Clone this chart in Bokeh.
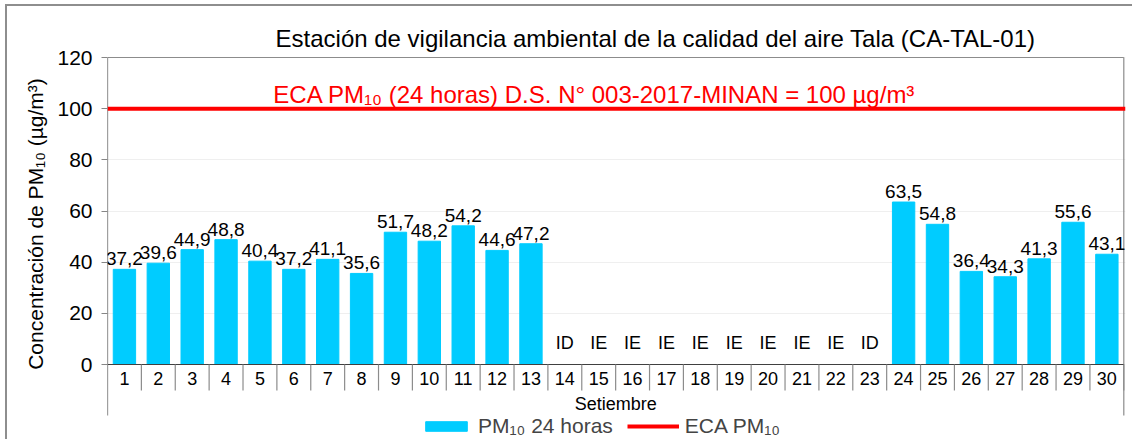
import math
import numpy as np
import pandas as pd
from bokeh.plotting import figure
from bokeh.models import (ColumnDataSource, FixedTicker, Legend, LegendItem, Range1d)
from bokeh.core.properties import value
from bokeh.embed import file_html
from bokeh.resources import INLINE

# ---------------- data ----------------
days = list(range(1, 31))
day_labels = [str(d) for d in days]
pm10 = [37.2, 39.6, 44.9, 48.8, 40.4, 37.2, 41.1, 35.6, 51.7, 48.2,
        54.2, 44.6, 47.2, None, None, None, None, None, None, None,
        None, None, None, 63.5, 54.8, 36.4, 34.3, 41.3, 55.6, 43.1]
status = ["", "", "", "", "", "", "", "", "", "",
          "", "", "", "ID", "IE", "IE", "IE", "IE", "IE", "IE",
          "IE", "IE", "ID", "", "", "", "", "", "", ""]
eca_limit = 100
y_ticks = [0, 20, 40, 60, 80, 100, 120]

title_text = "Estación de vigilancia ambiental de la calidad del aire Tala (CA-TAL-01)"
eca_text = "ECA PM\u2081\u2080 (24 horas) D.S. N° 003-2017-MINAN = 100 µg/m³"
ylabel_text = "Concentración de PM\u2081\u2080 (µg/m³)"
xlabel_text = "Setiembre"
legend_bar = "PM\u2081\u2080 24 horas"
legend_line = "ECA PM\u2081\u2080"

FONT = "Liberation Sans"
BAR = "#00CCFF"
RED = "#FF0000"

# ---------------- geometry (page pixels) ----------------
OX, OY = 7, 6                     # canvas offset due to outer border
W, H = 1134 - OX, 442 - OY - 1
FL, FR = 107, 1125                # frame left / right on page
Y120, Y0 = 57, 364                # page y of 120 and 0
k = (Y0 - Y120) / 120.0
xk = (FR - FL) / 30.05
y_top = 120 + (Y120 - OY) / k
y_bot = -(OY + H - Y0) / k
x0, x1 = 0.5, 30.55

def ypx(py):
    return (Y0 - py) / k

def xpx(px):
    return 0.5 + (px - FL) / xk

p = figure(width=W, height=H, output_backend="svg", toolbar_location=None,
           x_range=Range1d(x0, x1), y_range=Range1d(y_bot, y_top),
           min_border_left=FL - OX, min_border_right=OX + W - FR,
           min_border_top=0, min_border_bottom=0)
p.styles = {"border-left": "2px solid #8E8E8E", "border-top": "2px solid #8E8E8E",
            "margin-left": "5px", "margin-top": "4px"}
p.outline_line_color = None
p.background_fill_color = "white"
p.border_fill_color = "white"

# axes
p.xaxis.visible = False
p.yaxis.ticker = FixedTicker(ticks=y_ticks)
p.yaxis.axis_line_color = None
p.yaxis.major_tick_line_color = "#868686"
p.yaxis.major_tick_out = 6
p.yaxis.major_tick_in = 0
p.yaxis.minor_tick_line_color = None
p.yaxis.major_label_text_font = FONT
p.yaxis.major_label_text_font_size = "21px"
p.yaxis.major_label_text_color = "black"
p.yaxis.major_label_standoff = 9
p.yaxis.axis_label = ylabel_text
p.yaxis.axis_label_text_font = FONT
p.yaxis.axis_label_text_font_size = "21px"
p.yaxis.axis_label_text_font_style = "normal"
p.yaxis.axis_label_text_color = "black"
p.yaxis.axis_label_standoff = 7
p.ygrid.ticker = FixedTicker(ticks=y_ticks)
p.ygrid.grid_line_color = "#EFEFEF"
p.xgrid.grid_line_color = None

xs = np.array(days, dtype=float)
vals = np.array([np.nan if v is None else v for v in pm10])
src = ColumnDataSource(dict(x=xs, top=vals,
                            lab=["" if v is None else f"{v:.1f}".replace(".", ",") for v in pm10],
                            st=status, dl=day_labels))

bars = p.vbar(x="x", top="top", width=0.66, bottom=0, source=src,
              fill_color=BAR, line_color=BAR)

# plot-area border (top and right) and axis lines
sep_bottom = ypx(390)
axis_bottom = ypx(415)
p.segment(x0=[0.5, 30.5], y0=[120, axis_bottom], x1=[30.5, 30.5], y1=[120, 120],
          line_color="#8C8C8C", line_width=1.2)
p.segment(x0=[0.5], y0=[axis_bottom], x1=[0.5], y1=[120], line_color="#404040", line_width=1.2)
p.segment(x0=[0.5], y0=[0], x1=[30.5], y1=[0], line_color="#404040", line_width=1.2)
seps = [d + 0.5 for d in days]
p.segment(x0=seps, y0=[0] * len(seps), x1=seps, y1=[sep_bottom] * len(seps),
          line_color="#8C8C8C", line_width=1.2)

# ECA line
eca = p.line(x=[x0, x1], y=[eca_limit, eca_limit], line_color=RED, line_width=4)

# data labels
p.text(x="x", y="top", text="lab", source=src, text_font=value(FONT),
       text_font_size="19px", text_align="center", text_baseline="bottom",
       y_offset=-4, text_color="black")
# status labels
p.text(x="x", y=ypx(342), text="st", source=src, text_font=value(FONT),
       text_font_size="18px", text_align="center", text_baseline="middle",
       text_color="black")
# category labels
p.text(x="x", y=ypx(378), text="dl", source=src, text_font=value(FONT),
       text_font_size="18px", text_align="center", text_baseline="middle",
       text_color="black")

# x axis title
p.text(x=[15.5], y=[ypx(403)], text=[xlabel_text], text_font=value(FONT),
       text_font_size="18px", text_align="center", text_baseline="middle", text_color="black")
# ECA text
p.text(x=[xpx(594)], y=[ypx(94)], text=[eca_text], text_font=value(FONT),
       text_font_size="24px", text_align="center", text_baseline="middle", text_color=RED)
# chart title
p.text(x=[xpx(655)], y=[ypx(38)], text=[title_text], text_font=value(FONT),
       text_font_size="24px", text_align="center", text_baseline="middle", text_color="black")

legend = Legend(items=[LegendItem(label=legend_bar, renderers=[bars]),
                       LegendItem(label=legend_line, renderers=[eca])],
                orientation="horizontal", location=(420 - FL, 3),
                label_text_font=FONT, label_text_font_size="21px",
                glyph_width=52, glyph_height=12, label_standoff=6, spacing=14,
                padding=0, margin=0, border_line_color=None,
                background_fill_alpha=0)
p.add_layout(legend)

open("out.html", "w").write(file_html(p, INLINE))
